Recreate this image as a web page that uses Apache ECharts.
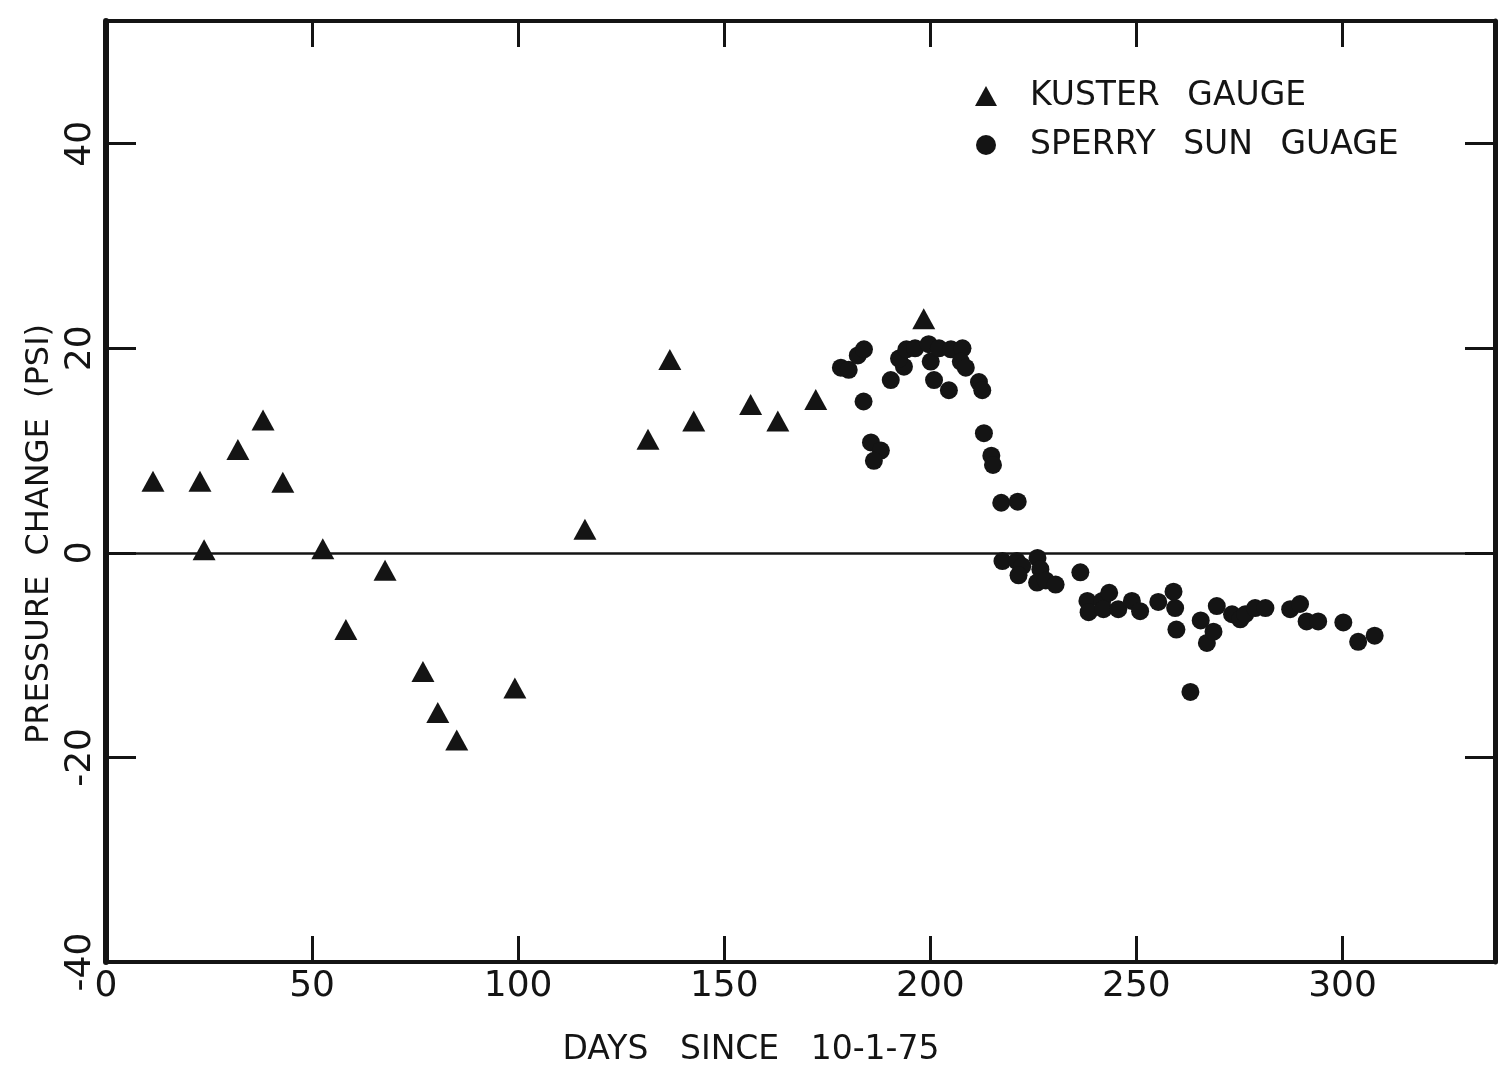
<!DOCTYPE html>
<html>
<head>
<meta charset="utf-8">
<title>Pressure change vs days</title>
<script src="https://cdn.jsdelivr.net/npm/echarts@6/dist/echarts.min.js"></script>
<style>
  html, body { margin: 0; padding: 0; background: #fff; }
  #chart { width: 1504px; height: 1078px; }
</style>
</head>
<body>
<div id="chart"></div>
<script>
// Kuster gauge readings (days since 10-1-75, pressure change in psi)
var kusterDays = [11.4, 22.8, 23.8, 32.0, 38.1, 42.9, 52.6, 58.2, 67.7, 76.9, 80.5,
                  85.1, 99.2, 116.2, 131.5, 136.8, 142.6, 156.4, 163.0, 172.2, 198.4];
var kusterPsi  = [7.0, 7.0, 0.3, 10.1, 13.0, 6.9, 0.4, -7.5, -1.7, -11.6, -15.6,
                  -18.3, -13.2, 2.3, 11.1, 18.9, 12.9, 14.5, 12.9, 15.0, 22.9];

// Sperry Sun gauge readings
var sperryDays = [178.3, 180.2, 182.4, 183.9, 183.8, 185.6, 188.0, 186.3, 190.4, 193.6,
                  192.4, 194.2, 196.3, 199.6, 200.1, 200.9, 202.1, 204.5, 205.0, 207.8,
                  207.4, 208.6, 211.8, 212.6, 213.0, 214.8, 215.2, 217.2, 221.2, 217.5,
                  221.0, 222.3, 221.4, 226.0, 226.7, 225.9, 228.0, 230.4, 236.4, 238.1,
                  238.4, 241.7, 243.4, 242.0, 245.6, 248.9, 250.9, 255.3, 259.0, 259.4,
                  259.7, 263.1, 265.6, 267.1, 268.7, 269.5, 273.2, 275.2, 276.4, 278.8,
                  281.3, 287.3, 289.7, 291.3, 294.1, 300.2, 303.8, 307.8];
var sperryPsi  = [18.1, 17.9, 19.3, 19.9, 14.8, 10.8, 10.0, 9.0, 16.9, 18.2,
                  19.0, 19.9, 20.0, 20.4, 18.7, 16.9, 20.0, 15.9, 19.9, 20.0,
                  18.7, 18.1, 16.7, 15.9, 11.7, 9.5, 8.6, 4.9, 5.0, -0.8,
                  -0.8, -1.3, -2.2, -0.5, -1.6, -2.9, -2.7, -3.1, -1.9, -4.7,
                  -5.8, -4.7, -3.9, -5.5, -5.5, -4.7, -5.7, -4.8, -3.8, -5.4,
                  -7.5, -13.6, -6.6, -8.8, -7.7, -5.2, -6.0, -6.5, -6.0, -5.4,
                  -5.4, -5.5, -5.0, -6.7, -6.7, -6.8, -8.7, -8.1];

// Axis ranges and ticks
var xMin = 0, xMax = 337, xStep = 50;
var yMin = -40, yMax = 52, yStep = 20;

var ink = '#141414';
var fontFamily = 'DejaVu Sans';

function pairs(xs, ys) {
  return xs.map(function (x, i) { return [x, ys[i]]; });
}

function xAxisDef(position, lineWidth, showLabels) {
  return {
    type: 'value', position: position, min: xMin, max: xMax, interval: xStep,
    axisLine: { show: true, onZero: false, lineStyle: { color: ink, width: lineWidth } },
    axisTick: { show: true, inside: true, length: 26, lineStyle: { color: ink, width: 3 } },
    axisLabel: {
      show: showLabels, color: ink, fontFamily: fontFamily, fontSize: 36, margin: 7,
      showMaxLabel: false,
      formatter: function (v) { return v % xStep === 0 ? String(v) : ''; }
    },
    splitLine: { show: false }
  };
}

function yAxisDef(position, lineWidth, showLabels) {
  return {
    type: 'value', position: position, min: yMin, max: yMax, interval: yStep,
    axisLine: { show: true, onZero: false, lineStyle: { color: ink, width: lineWidth } },
    axisTick: { show: true, inside: true, length: 30, lineStyle: { color: ink, width: 3 } },
    axisLabel: {
      show: showLabels, color: ink, fontFamily: fontFamily, fontSize: 36, margin: 7,
      rotate: 90, showMaxLabel: false,
      formatter: function (v) { return (v - yMin) % yStep === 0 ? String(v) : ''; }
    },
    splitLine: { show: false }
  };
}

var chart = echarts.init(document.getElementById('chart'), null, { renderer: 'canvas' });

chart.setOption({
  backgroundColor: '#ffffff',
  animation: false,
  grid: { left: 106, right: 9, top: 21, bottom: 116, containLabel: false },
  xAxis: [xAxisDef('bottom', 4, true), xAxisDef('top', 4, false)],
  yAxis: [yAxisDef('left', 6, true), yAxisDef('right', 5, false)],
  legend: {
    orient: 'vertical', left: 975, top: 79, padding: 0,
    itemWidth: 22, itemHeight: 20, itemGap: 15,
    textStyle: { color: ink, fontFamily: fontFamily, fontSize: 33, lineHeight: 34, padding: [0, 0, 0, 28] },
    formatter: function (name) { return name.split(' ').join('  \u2009'); },
    data: ['KUSTER GAUGE', 'SPERRY SUN GUAGE']
  },
  graphic: [
    {
      type: 'text', x: 751, y: 1050, silent: true,
      style: { text: 'DAYS   SINCE   10-1-75', fill: ink, font: '33px "DejaVu Sans"',
               align: 'center', verticalAlign: 'middle' }
    },
    {
      type: 'text', x: 40, y: 534, rotation: Math.PI / 2, silent: true,
      style: { text: 'PRESSURE  CHANGE  (PSI)', fill: ink, font: '32px "DejaVu Sans"',
               align: 'center', verticalAlign: 'middle' }
    }
  ],
  series: [
    {
      name: 'KUSTER GAUGE', type: 'scatter', xAxisIndex: 0, yAxisIndex: 0,
      symbol: 'triangle', symbolSize: [23, 21],
      itemStyle: { color: ink, opacity: 1 },
      data: pairs(kusterDays, kusterPsi),
      markLine: {
        silent: true, symbol: 'none', animation: false,
        label: { show: false },
        lineStyle: { color: ink, width: 2.5, type: 'solid' },
        data: [{ yAxis: 0 }]
      },
      z: 3
    },
    {
      name: 'SPERRY SUN GUAGE', type: 'scatter', xAxisIndex: 0, yAxisIndex: 0,
      symbol: 'circle', symbolSize: 18,
      itemStyle: { color: ink, opacity: 1 },
      data: pairs(sperryDays, sperryPsi),
      z: 3
    }
  ]
});
</script>
</body>
</html>
